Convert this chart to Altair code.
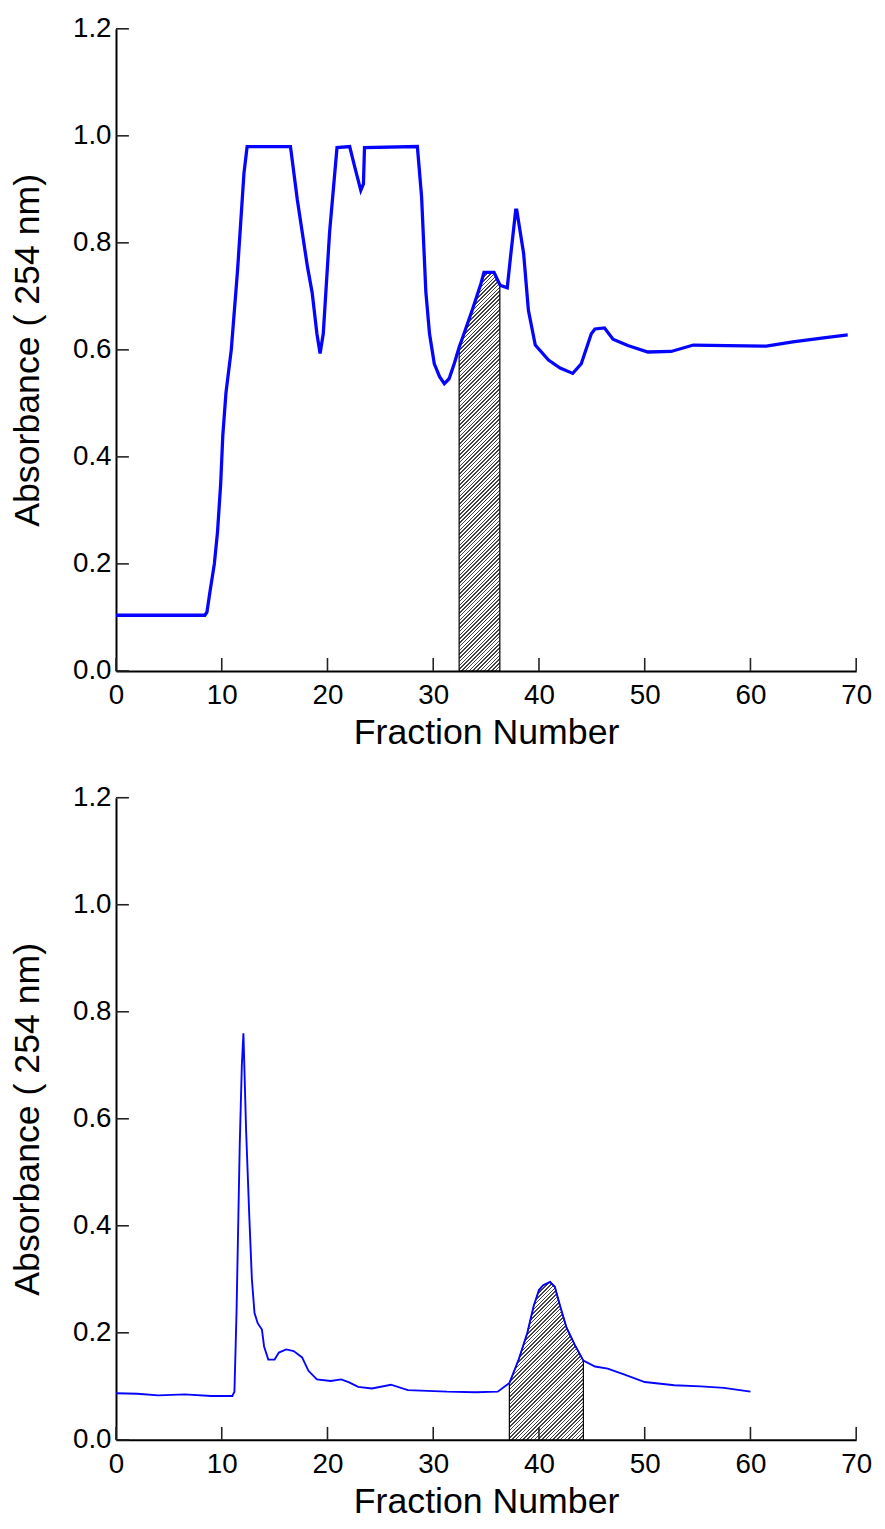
import altair as alt
import pandas as pd

# ---------------- data ----------------
top_x = [0, 4, 8.4, 8.6, 8.9, 9.3, 9.6, 9.9, 10.1, 10.4, 10.9, 11.5, 12.1, 12.4,
         16.5, 17.15, 18.1, 18.55, 19.0, 19.3, 19.6, 20.2, 20.9, 22.1, 22.6, 23.15,
         23.4, 23.5, 28.5, 28.9, 29.3, 29.65, 30.1, 30.6, 31.05, 31.5, 32.0, 32.45,
         32.8, 33.7, 34.5, 34.8, 35.75, 36.3, 36.4, 37.0, 37.3, 37.8, 37.9, 38.55,
         39.0, 39.65, 40.9, 42.0, 43.2, 44.0, 44.95, 45.3, 46.2, 47.0, 48.4, 50.3,
         52.5, 54.6, 57.8, 61.5, 64.0, 67.1, 69.2]
top_y = [0.104, 0.104, 0.104, 0.11, 0.15, 0.20, 0.26, 0.35, 0.44, 0.52, 0.60, 0.75, 0.93, 0.98,
         0.98, 0.88, 0.756, 0.707, 0.63, 0.593, 0.63, 0.82, 0.978, 0.98, 0.94, 0.898,
         0.91, 0.978, 0.98, 0.886, 0.709, 0.63, 0.574, 0.55, 0.537, 0.546, 0.575, 0.605,
         0.624, 0.675, 0.723, 0.745, 0.745, 0.722, 0.72, 0.716, 0.772, 0.861, 0.861, 0.78,
         0.674, 0.609, 0.581, 0.566, 0.556, 0.574, 0.63, 0.639, 0.641, 0.62, 0.608, 0.596,
         0.597, 0.609, 0.608, 0.607, 0.615, 0.623, 0.628]
top_band = [32.45, 36.3]

bot_x = [0, 2, 4, 6.5, 9, 11.0, 11.2, 11.4, 11.7, 11.9, 12.05, 12.3, 12.6, 12.85, 13.1,
         13.4, 13.8, 14.0, 14.4, 15.0, 15.4, 16.1, 16.8, 17.6, 18.2, 19.0, 20.3, 21.3,
         22.0, 22.9, 24.2, 26.0, 27.6, 31.3, 34.0, 36.1, 37.2, 38.1, 38.9, 39.5, 40.0,
         40.4, 41.05, 41.5, 42.0, 42.6, 43.4, 44.2, 45.3, 46.5, 48.1, 50.0, 52.8, 55.3,
         57.5, 60.0]
bot_y = [0.087, 0.086, 0.083, 0.085, 0.082, 0.082, 0.09, 0.24, 0.55, 0.70, 0.76, 0.58, 0.42,
         0.30, 0.237, 0.218, 0.206, 0.175, 0.15, 0.15, 0.163, 0.169, 0.166, 0.154, 0.129,
         0.113, 0.11, 0.113, 0.108, 0.099, 0.096, 0.103, 0.093, 0.09, 0.089, 0.09, 0.106,
         0.151, 0.20, 0.25, 0.28, 0.289, 0.295, 0.286, 0.25, 0.21, 0.177, 0.148, 0.137,
         0.133, 0.122, 0.108, 0.102, 0.100, 0.097, 0.09]
bot_band = [37.2, 44.2]

x_ticks = [0, 10, 20, 30, 40, 50, 60, 70]
y_ticks = [0.0, 0.2, 0.4, 0.6, 0.8, 1.0, 1.2]

# ---------------- styling ----------------
W, H = 747, 648
XMAX, YMAX = 70, 1.2
FONT = "Liberation Sans"
TICK_LEN = 13


def hatch(band, ys_in_band):
    """Diagonal hatch built as a striped linear gradient over the area's box."""
    w = (band[1] - band[0]) / XMAX * W
    h = max(ys_in_band) / YMAX * H
    k = (w + h) / (w * w + h * h)
    period = 3.8
    n = max(1, int(round((w + h) / period)))
    light, dark = "#ffffff", "#444444"
    stops = []
    for i in range(n):
        a = i / n
        b = (i + 0.6) / n
        c = (i + 1) / n
        stops += [alt.GradientStop(offset=a, color=light),
                  alt.GradientStop(offset=b, color=light),
                  alt.GradientStop(offset=b, color=dark),
                  alt.GradientStop(offset=c, color=dark)]
    return alt.LinearGradient(gradient="linear", x1=0, y1=0, x2=w * k, y2=h * k,
                              stops=stops)


def panel(xs, ys, band, lw):
    df = pd.DataFrame({"x": xs, "y": ys})
    xscale = alt.Scale(domain=[0, XMAX], nice=False, zero=False)
    yscale = alt.Scale(domain=[0, YMAX], nice=False)
    xaxis = alt.Axis(values=x_ticks, format="d", title="Fraction Number",
                     ticks=False, grid=False, labelFlush=False,
                     labelPadding=11, titlePadding=6)
    yaxis = alt.Axis(values=y_ticks, format=".1f", title="Absorbance ( 254 nm)",
                     ticks=False, grid=False, labelFlush=False,
                     labelPadding=5, titlePadding=26)
    in_band = [v for xv, v in zip(xs, ys) if band[0] <= xv <= band[1]]

    area = alt.Chart(df).transform_filter(
        (alt.datum.x >= band[0]) & (alt.datum.x <= band[1])
    ).mark_area(fill=hatch(band, in_band), stroke="black", strokeWidth=1.2).encode(
        x=alt.X("x:Q", scale=xscale, axis=xaxis),
        y=alt.Y("y:Q", scale=yscale, axis=yaxis),
    )
    line = alt.Chart(df).mark_line(color="#0505ff", strokeWidth=lw).encode(
        x=alt.X("x:Q", scale=xscale, axis=xaxis),
        y=alt.Y("y:Q", scale=yscale, axis=yaxis),
    )
    ytk = alt.Chart(pd.DataFrame({"v": y_ticks})).mark_rule(
        color="#222222", strokeWidth=1.6).encode(
        y=alt.Y("v:Q", scale=yscale, axis=yaxis),
        x=alt.value(0), x2=alt.value(TICK_LEN))
    xtk = alt.Chart(pd.DataFrame({"v": x_ticks})).mark_rule(
        color="#222222", strokeWidth=1.6).encode(
        x=alt.X("v:Q", scale=xscale, axis=xaxis),
        y=alt.value(H), y2=alt.value(H - TICK_LEN))
    return alt.layer(area, line, ytk, xtk).properties(width=W, height=H)


top = panel(top_x, top_y, top_band, 3.3)
bottom = panel(bot_x, bot_y, bot_band, 1.9)

chart = alt.vconcat(
    top, bottom, spacing=34, background="white",
    padding={"left": 2, "top": 0, "right": 5, "bottom": 5},
).configure_view(
    strokeWidth=0
).configure_axis(
    grid=False,
    domainColor="black",
    domainWidth=2,
    labelFont=FONT,
    labelFontSize=28,
    labelColor="black",
    titleFont=FONT,
    titleFontSize=36,
    titleFontWeight="normal",
    titleColor="black",
)

chart.save("out.html", embed_options={"renderer": "svg", "actions": False})
